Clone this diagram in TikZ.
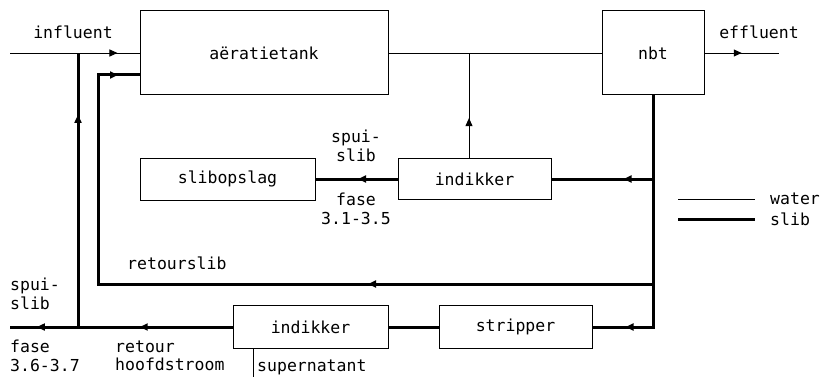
\documentclass[tikz,border=0pt]{standalone}
\usepackage{fontspec}
\newfontfamily\plotfont{DejaVu Sans Mono}
\usetikzlibrary{decorations.markings,arrows.meta}
\begin{document}
\begin{tikzpicture}[x=1pt,y=-1pt,
  txt/.style={font=\plotfont\fontsize{16.5}{18.5}\selectfont, inner sep=0pt},
  box/.style={txt, draw, line width=1pt, rectangle},
  water/.style={line width=0.9pt},
  slibl/.style={line width=3pt},
  arr/.style={postaction={decorate,decoration={markings,
     mark=at position #1 with {\arrow{Triangle[length=8pt,width=7pt]}}}}}]
\useasboundingbox (0,0) rectangle (821,377);
% boxes
\node[box, minimum width=248pt, minimum height=84pt] (aer) at (264,53) {aëratietank};
\node[box, minimum width=102pt, minimum height=84pt] (nbt) at (653,53) {nbt};
\node[box, minimum width=153pt, minimum height=41pt] (ind1) at (474.5,179) {indikker};
\node[box, minimum width=175pt, minimum height=42pt] (slo) at (227.5,179) {slibopslag};
\node[box, minimum width=153pt, minimum height=43pt] (strip) at (515.5,327) {stripper};
\node[box, minimum width=155pt, minimum height=43pt] (ind2) at (310.5,327) {indikker};
% coordinates
\coordinate (inf) at (10,53);
\coordinate (eff) at (779,53);
\coordinate (br) at (469,53);
\coordinate (c1) at (653,179);
\coordinate (c2) at (653,284);
\coordinate (c3) at (653,327);
\coordinate (r1) at (98,284);
\coordinate (r2) at (98,75);
\coordinate (r3) at (140,75);
\coordinate (j1) at (78,53);
\coordinate (j2) at (78,327);
\coordinate (out) at (10,327);
\coordinate (sup) at (253,377);
\coordinate (lw1) at (678,199);
\coordinate (lw2) at (755,199);
\coordinate (ls1) at (678,219);
\coordinate (ls2) at (755,219);
% water lines
\draw[water, arr=0.83] (inf) -- (aer.west);
\draw[water] (aer.east) -- (nbt.west);
\draw[water, arr=0.5] (nbt.east) -- (eff);
\draw[water, arr=0.38] (ind1.north -| br) -- (br);
\draw[water] (ind2.south -| sup) -- (sup);
% sludge lines
\draw[slibl, arr=-33pt] (nbt.south) -- (c3) -- (strip.east);
\draw[slibl, arr=0.29] (c1) -- (ind1.east);
\draw[slibl, arr=285pt, arr=-22pt] (c2) -- (r1) -- (r2) -- (r3);
\draw[slibl, arr=0.48] (ind1.west) -- (slo.east);
\draw[slibl] (strip.west) -- (ind2.east);
\draw[slibl, arr=0.417, arr=0.879] (ind2.west) -- (out);
\draw[slibl, arr=0.774] (j2) -- (j1);
% legend
\draw[water] (lw1) -- (lw2);
\draw[slibl] (ls1) -- (ls2);
\node[txt, anchor=west] (lwt) at (770,199) {water};
\node[txt, anchor=west] (lst) at (770,219) {slib};
% labels
\node[txt] (tinf) at (73,32) {influent};
\node[txt] (teff) at (759,32) {effluent};
\node[txt, align=center] (tsp1) at (356,146) {spui-\\slib};
\node[txt, align=center] (tfa1) at (356,209) {fase\\3.1-3.5};
\node[txt, anchor=west] (tret) at (127,263) {retourslib};
\node[txt, anchor=west, align=left] (tsp2) at (10,294) {spui-\\slib};
\node[txt, anchor=west, align=left] (tfa2) at (10,356) {fase\\3.6-3.7};
\node[txt, anchor=west, align=left] (thf) at (115,356) {retour\\hoofdstroom};
\node[txt, anchor=west] (tsup) at (257,367) {supernatant};
\end{tikzpicture}
\end{document}
